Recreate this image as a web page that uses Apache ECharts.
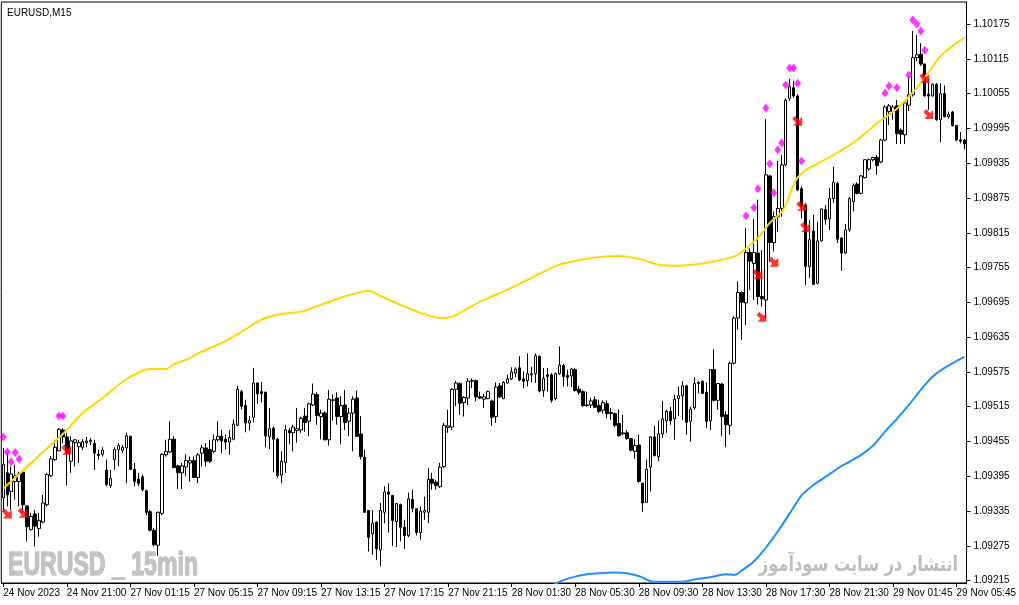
<!DOCTYPE html>
<html><head><meta charset="utf-8">
<script src="https://cdn.jsdelivr.net/npm/echarts@6/dist/echarts.min.js"></script>
<style>html,body{margin:0;padding:0;background:#fff}#c{width:1019px;height:605px}</style>
</head><body><div id="c"></div>
<script>
// prices in points (1 point = 0.00001)
const PRICE_SCALE = 1e5;
const opens = [109358,109401,109369,109386,109386,109402,109344,109303,109330,109305,
109316,109346,109396,109424,109439,109475,109463,109421,109453,109446,
109445,109453,109455,109452,109433,109433,109406,109379,109424,109441,
109440,109444,109464,109407,109390,109394,109370,109334,109302,109276,
109331,109432,109437,109459,109413,109401,109411,109418,109422,109393,
109435,109444,109441,109438,109458,109464,109459,109454,109459,109483,
109541,109517,109487,109497,109556,109541,109540,109463,109478,109459,
109397,109419,109474,109470,109474,109475,109499,109490,109518,109536,
109498,109504,109458,109526,109530,109498,109518,109490,109504,109530,
109468,109428,109336,109296,109316,109268,109333,109368,109362,109317,
109346,109307,109293,109355,109339,109298,109333,109333,109390,109385,
109377,109412,109479,109480,109545,109555,109522,109530,109559,109560,
109532,109528,109529,109525,109498,109551,109529,109556,109563,109573,
109582,109563,109560,109570,109572,109602,109543,109570,109570,109529,
109572,109586,109569,109568,109579,109545,109541,109517,109518,109527,
109517,109509,109520,109505,109503,109486,109468,109470,109460,109438,
109449,109383,109350,109411,109463,109429,109468,109491,109507,109494,
109529,109534,109551,109490,109513,109555,109559,109540,109491,109579,
109526,109554,109501,109483,109590,109668,109712,109694,109781,109762,
109780,109705,109699,109913,109798,109843,109857,109932,110047,110065,
110051,109891,109863,109757,109818,109728,109801,109855,109839,109874,
109900,109806,109780,109820,109869,109899,109883,109910,109925,109941,
109945,109937,109975,110024,110024,110034,109992,109984,110035,110053,
110117,110123,110106,110054,110051,110071,110010,110055,110015,110023,
110000,109975,109975];
const highs = [109444,109435,109412,109415,109403,109403,109345,109332,109337,109332,
109363,109401,109430,109458,109478,109478,109470,109464,109459,109458,
109459,109463,109461,109458,109441,109445,109424,109406,109445,109452,
109449,109470,109465,109418,109401,109398,109372,109337,109306,109334,
109435,109458,109490,109464,109415,109418,109433,109429,109429,109435,
109449,109452,109458,109467,109490,109475,109467,109475,109493,109551,
109544,109527,109499,109582,109557,109558,109541,109513,109481,109461,
109438,109484,109478,109484,109513,109498,109513,109522,109555,109540,
109510,109507,109544,109536,109540,109533,109544,109513,109533,109543,
109499,109441,109337,109337,109317,109349,109378,109383,109363,109349,
109348,109320,109367,109372,109340,109343,109360,109409,109401,109389,
109418,109487,109510,109547,109559,109557,109533,109564,109564,109562,
109541,109537,109543,109527,109557,109556,109559,109570,109583,109583,
109602,109576,109607,109584,109607,109603,109582,109582,109573,109574,
109619,109589,109579,109582,109582,109551,109543,109541,109530,109533,
109527,109526,109526,109513,109505,109510,109501,109475,109461,109459,
109467,109384,109424,109464,109482,109491,109525,109510,109515,109536,
109550,109559,109553,109515,109566,109559,109560,109557,109580,109614,
109556,109556,109507,109593,109671,109731,109714,109823,109788,109839,
109872,109785,110011,109915,109852,109939,109949,110047,110080,110077,
110054,109895,109866,109837,109846,109834,109857,109863,109892,109929,
109903,109807,109830,109877,109900,109902,109915,109942,109943,109946,
109949,109977,110035,110037,110035,110044,109995,110041,110084,110163,
110156,110142,110107,110081,110073,110073,110073,110069,110024,110025,
110001,109989,109977];
const lows = [109334,109343,109337,109355,109343,109332,109283,109302,109274,109291,
109314,109343,109394,109421,109438,109452,109379,109401,109412,109418,
109440,109445,109449,109406,109424,109429,109378,109375,109406,109412,
109435,109383,109406,109378,109378,109369,109328,109300,109274,109258,
109328,109429,109435,109409,109373,109373,109395,109386,109392,109383,
109412,109412,109418,109435,109455,109435,109441,109432,109457,109482,
109510,109471,109474,109488,109520,109522,109445,109442,109402,109392,
109383,109401,109450,109438,109453,109470,109472,109464,109516,109484,
109459,109457,109448,109491,109484,109450,109475,109464,109438,109463,
109424,109332,109265,109260,109251,109240,109314,109298,109275,109273,
109283,109270,109290,109333,109293,109286,109320,109314,109372,109372,
109375,109409,109470,109475,109516,109501,109498,109518,109547,109524,
109528,109513,109528,109482,109487,109530,109528,109555,109561,109566,
109559,109547,109550,109557,109556,109540,109532,109541,109522,109526,
109570,109550,109550,109549,109541,109536,109515,109515,109513,109513,
109504,109503,109495,109492,109480,109464,109467,109458,109438,109425,
109384,109334,109349,109369,109429,109421,109461,109470,109484,109458,
109499,109492,109467,109455,109510,109538,109537,109478,109475,109524,
109510,109464,109445,109467,109588,109648,109630,109656,109716,109699,
109691,109688,109668,109765,109783,109817,109843,109930,110042,110048,
109887,109840,109725,109737,109725,109726,109800,109829,109820,109866,
109797,109749,109778,109817,109852,109881,109881,109909,109922,109938,
109915,109935,109973,110001,110010,109968,109968,109968,110025,110050,
110111,110103,110050,110027,110050,110008,109971,110014,110012,109998,
109973,109969,109959];
const closes = [109416,109363,109399,109396,109399,109346,109308,109326,109309,109319,
109349,109398,109425,109445,109476,109463,109435,109456,109458,109453,
109455,109456,109457,109435,109431,109440,109381,109391,109441,109448,
109445,109465,109407,109386,109383,109372,109333,109302,109277,109333,
109433,109438,109459,109410,109401,109413,109422,109422,109393,109432,
109444,109421,109421,109458,109464,109456,109454,109462,109485,109545,
109516,109487,109491,109556,109537,109538,109465,109477,109459,109396,
109421,109475,109470,109480,109477,109495,109488,109520,109537,109500,
109504,109458,109528,109527,109498,109517,109488,109504,109528,109464,
109429,109333,109290,109314,109270,109336,109368,109364,109319,109348,
109307,109293,109356,109340,109298,109335,109336,109390,109383,109379,
109411,109483,109482,109545,109556,109521,109531,109559,109560,109532,
109530,109532,109541,109497,109549,109532,109557,109563,109575,109580,
109561,109559,109572,109572,109603,109542,109564,109567,109526,109572,
109587,109567,109566,109580,109543,109540,109517,109518,109525,109514,
109507,109522,109503,109503,109483,109465,109470,109460,109440,109448,
109386,109349,109407,109463,109431,109468,109494,109507,109491,109528,
109534,109551,109488,109511,109555,109557,109538,109490,109579,109526,
109555,109498,109484,109590,109668,109712,109695,109781,109766,109781,
109705,109701,109915,109798,109843,109857,109932,110044,110067,110051,
109889,109860,109757,109803,109726,109801,109856,109838,109874,109902,
109804,109780,109820,109874,109897,109883,109913,109941,109941,109945,
109931,109975,110032,110034,110032,109986,109985,110039,110053,110117,
110122,110106,110051,110051,110071,110010,110055,110015,110019,110000,
109975,109973,109968];

// moving averages: [bar index, points]
const maYellow = [[0,109374],[5,109405],[10,109437],[15,109468],[20,109504],[25,109530],[30,109558],
[35,109577],[37,109580],[41,109580],[43,109589],[46,109596],[50,109610],[55,109625],[60,109644],
[65,109665],[70,109675],[75,109679],[80,109691],[85,109703],[90,109713],[92,109715],[95,109706],
[100,109691],[105,109677],[110,109668],[113,109670],[115,109677],[120,109696],[125,109711],
[130,109727],[135,109744],[140,109760],[145,109768],[150,109773],[155,109775],[160,109770],
[165,109760],[170,109758],[175,109761],[180,109767],[183,109772],[185,109777],[188,109794],
[190,109806],[193,109832],[196,109851],[197,109863],[199,109898],[200,109910],[202,109923],
[205,109934],[210,109953],[215,109975],[220,110004],[225,110029],[230,110065],[233,110092],
[236,110120],[239,110137],[242,110151]];
const maBlue = [[138,109206],[141,109216],[144,109222],[147,109226],[150,109228],[154,109229],
[157,109228],[160,109223],[163,109214],[165,109213],[171,109213],[174,109217],[178,109221],
[182,109226],[184,109225],[186,109233],[189,109248],[192,109272],[195,109300],[198,109331],
[201,109362],[204,109380],[207,109394],[210,109408],[213,109420],[216,109432],[219,109448],
[222,109472],[225,109494],[228,109518],[231,109544],[234,109567],[237,109582],[240,109594],
[242,109601]];

// signal marks: [bar index, points]
const diamondMarks = [[0,109463],[1,109437],[2,109420],[3,109436],[4,109425],[14,109499],[15,109499],
[187,109844],[189,109858],[190,109891],[192,110030],[193,109934],[194,109884],[195,109958],
[196,109970],[197,110070],[198,110099],[199,110099],[200,110073],[201,109939],[222,110056],
[223,110068],[225,110065],[228,110087],[229,110182],[230,110175],[231,110163],[232,110130]];
const arrowMarks = [[0,109331],[4,109332],[15,109441],[189,109744],[190,109670],[193,109765],
[199,110008],[200,109861],[201,109825],[231,110082],[232,110020]];

const xTickLabels = ['24 Nov 2023','24 Nov 21:00','27 Nov 01:15','27 Nov 05:15','27 Nov 09:15',
'27 Nov 13:15','27 Nov 17:15','27 Nov 21:15','28 Nov 01:30','28 Nov 05:30','28 Nov 09:30',
'28 Nov 13:30','28 Nov 17:30','28 Nov 21:30','29 Nov 01:45','29 Nov 05:45'];
const X_TICK_STEP = 16;
const yTickLabels = ['1.09215','1.09275','1.09335','1.09395','1.09455','1.09515','1.09575','1.09635',
'1.09695','1.09755','1.09815','1.09875','1.09935','1.09995','1.10055','1.10115','1.10175'];

const P = v => v / PRICE_SCALE;
const categories = opens.map((_, i) => String(i));
const candleData = opens.map((o, i) => [P(o), P(closes[i]), P(lows[i]), P(highs[i])]);
const pair = a => a.map(d => [d[0], P(d[1])]);
const FONT = '"Liberation Sans", Arial, sans-serif';
const tickFn = idx => idx % X_TICK_STEP === 0;

const chart = echarts.init(document.getElementById('c'), null, {renderer: 'canvas'});
chart.setOption({
  animation: false,
  backgroundColor: '#fff',
  grid: {left: 1.3, right: 47, top: 2, bottom: 22, show: true, borderColor: '#000', borderWidth: 1, backgroundColor: '#fff'},
  xAxis: {
    type: 'category', data: categories, boundaryGap: true,
    axisLine: {show: true, lineStyle: {color: '#000', width: 1}},
    axisTick: {show: true, interval: tickFn, alignWithLabel: true, length: 4, lineStyle: {color: '#000'}},
    axisLabel: {interval: tickFn, formatter: (v, idx) => xTickLabels[Math.round(idx / X_TICK_STEP)] || '',
      align: 'left', margin: 5, fontSize: 10, color: '#000', fontFamily: FONT},
    splitLine: {show: false}
  },
  yAxis: {
    type: 'value', position: 'right', min: 1.09211, max: 1.10213,
    axisLine: {show: true, lineStyle: {color: '#000', width: 1}},
    axisTick: {show: true, length: 4, customValues: yTickLabels.map(Number), lineStyle: {color: '#000'}},
    axisLabel: {customValues: yTickLabels.map(Number), formatter: v => v.toFixed(5), margin: 7,
      fontSize: 10, color: '#000', fontFamily: FONT},
    splitLine: {show: false}
  },
  series: [
    {type: 'candlestick', data: candleData, barWidth: 3,
     itemStyle: {color: '#fff', color0: '#000', borderColor: '#000', borderColor0: '#000', borderWidth: 1}},
    {type: 'line', data: pair(maYellow), symbol: 'none', smooth: 0.3, clip: true,
     lineStyle: {color: '#FFD700', width: 2}, z: 3},
    {type: 'line', data: pair(maBlue), symbol: 'none', smooth: 0.3, clip: true,
     lineStyle: {color: '#1E90FF', width: 2}, z: 3},
    {type: 'scatter', data: pair(diamondMarks), symbol: 'diamond', symbolSize: [7, 9],
     itemStyle: {color: '#FF00FF'}, z: 4},
    {type: 'scatter', data: pair(arrowMarks), symbol: 'path://M0,3L3,0L7,4L10,1L10,10L1,10L4,7Z',
     symbolSize: 10, symbolOffset: [3.5, 0], itemStyle: {color: '#FF0000'}, z: 4}
  ],
  graphic: [
    {type: 'text', x: 7, y: 13, style: {text: 'EURUSD,M15', font: '10px "Liberation Sans", Arial, sans-serif', fill: '#000', textVerticalAlign: 'middle'}},
    {type: 'text', x: 8, y: 566, scaleX: 0.7, z: 0, style: {text: 'EURUSD _ 15min', font: 'bold 33px "Liberation Sans Narrow", "Liberation Sans", sans-serif', fill: '#C3C3C3', stroke: '#C3C3C3', lineWidth: 1.6, textVerticalAlign: 'middle'}},
    {type: 'text', x: 958, y: 566, scaleX: 0.77, style: {text: 'انتشار در سایت سودآموز', font: 'bold 21px "DejaVu Sans", sans-serif', fill: '#BEBEBE', textAlign: 'right', textVerticalAlign: 'middle'}}
  ]
});
</script></body></html>
